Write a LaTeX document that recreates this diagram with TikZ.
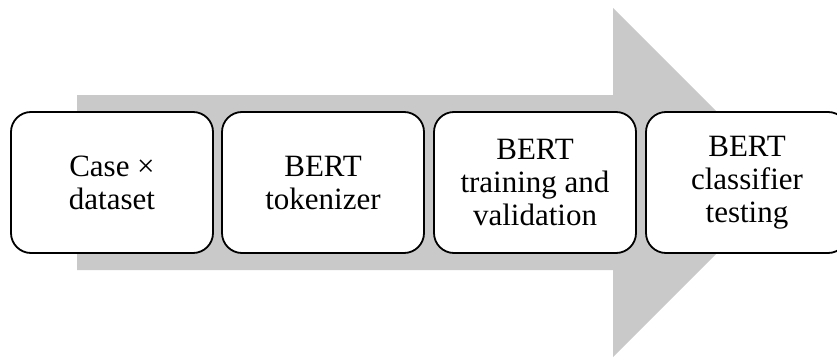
\documentclass[tikz,border=0pt]{standalone}
\usepackage{fontspec}
\setmainfont{Liberation Serif}
\begin{document}
\begin{tikzpicture}[x=1pt,y=-1pt,
  stepbox/.style={draw=black, line width=1.8pt, fill=white, rounded corners=20pt,
    minimum width=202pt, minimum height=141pt, align=center, inner sep=0pt,
    font=\fontsize{31}{33}\selectfont},
  bigarrow/.style={fill=black!21, draw=none}]
\useasboundingbox (0,0) rectangle (837,361);
\clip (0,0) rectangle (837,361);
\fill[bigarrow] (77,95) -- (613,95) -- (613,8) -- (787.5,182.5) -- (613,357) -- (613,270) -- (77,270) -- cycle;
\node[stepbox] (b1) at (112,182.5) {Case ×\\dataset};
\node[stepbox] (b2) at (323,182.5) {BERT\\tokenizer};
\node[stepbox] (b3) at (535,182.5) {BERT\\training and\\validation};
\node[stepbox] (b4) at (747,182.5) {BERT\\classifier\\testing};
\end{tikzpicture}
\end{document}
